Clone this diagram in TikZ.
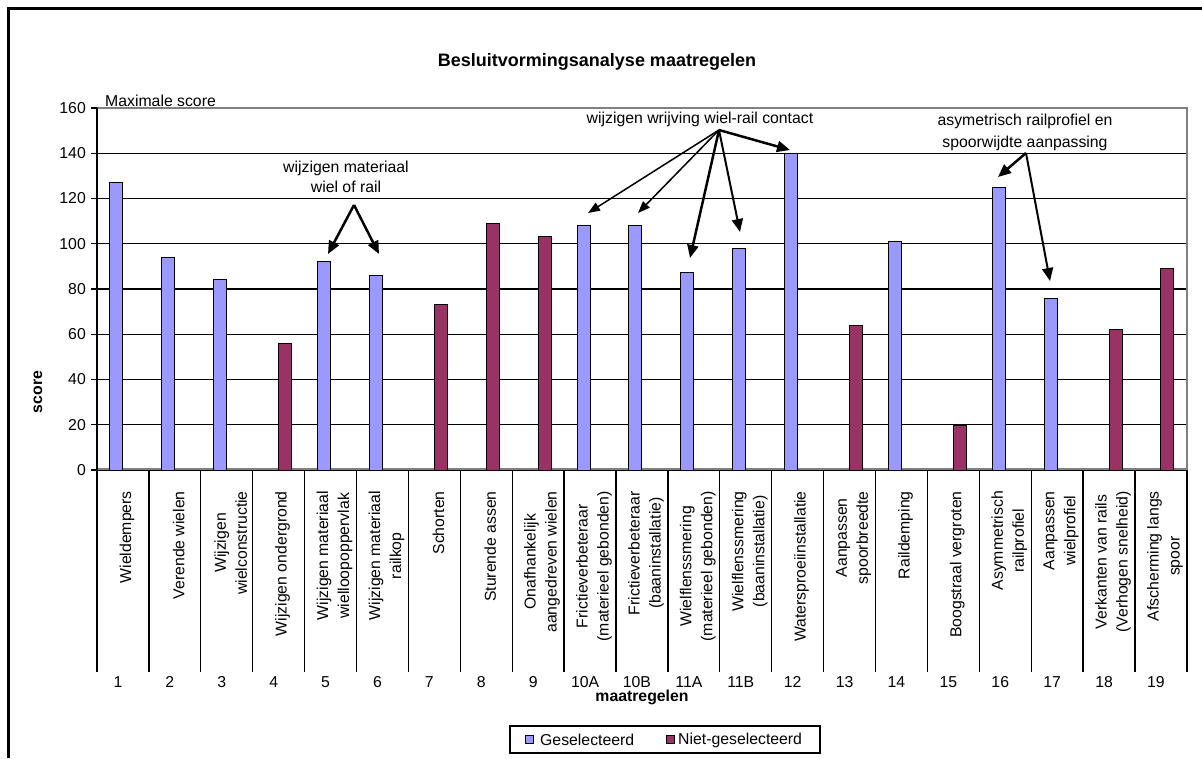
\documentclass[tikz,border=0pt]{standalone}
\usepackage{fontspec}
\setmainfont{Liberation Sans}
\usetikzlibrary{arrows.meta}
\definecolor{gesel}{HTML}{9999FF}
\definecolor{nietgesel}{HTML}{993366}
\tikzset{
  bar/.style={draw=black, line width=1pt},
  grid/.style={line width=1.3pt},
  txt/.style={inner sep=0pt, font=\fontsize{15.8}{20}\selectfont},
  cat/.style={txt, rotate=90, anchor=east, align=center, font=\fontsize{15.8}{21}\selectfont},
  ann/.style={-{Triangle[length=13pt,width=11pt]}, line width=2.5pt},
  annthin/.style={-{Triangle[length=12pt,width=9pt]}, line width=1.5pt}
}
\begin{document}
\begin{tikzpicture}[x=1pt,y=-1pt]
        \useasboundingbox (0,0) rectangle (1202,758);
        \draw[line width=3pt] (8,758) -- (8,8) -- (1202,8);
        \node[txt, font=\fontsize{18}{22}\selectfont\bfseries] (title) at (597,62) {Besluitvormingsanalyse maatregelen};

        % raster en assen
        \foreach \g in {0,20,...,140}{
          \draw[grid] (91,{470-2.2625*\g}) -- (1187,{470-2.2625*\g});
          \node[txt, anchor=east] (y\g) at (86,{470-2.2625*\g}) {\g};
        }
        \draw[grid, gray] (97,108) -- (1187,108) -- (1187,470);
        \draw[grid] (91,108) -- (97,108);
        \node[txt, anchor=east] (y160) at (86,108) {160};
        \draw[line width=2pt, gray] (97,469) -- (1187,469);
        \foreach \k in {0,...,21}
          \draw[grid] ({97+51.9*\k},470) -- ({97+51.9*\k},672);
        \draw[grid] (97,108) -- (97,470);
        \node[txt, font=\fontsize{15.8}{20}\selectfont\bfseries, rotate=90] (ylab) at (38,392) {score};
        \node[txt, font=\fontsize{15.8}{20}\selectfont\bfseries] (xlab) at (642,697) {maatregelen};
        \node[txt, anchor=base west] (max) at (105,106) {Maximale score};

        % staven
        \foreach \k/\n/\v/\s/\o/\t in {
            1/1/127/gesel/-13/{Wieldempers},
            2/2/94/gesel/-13/{Verende wielen},
            3/3/84/gesel/-13/{Wijzigen\\wielconstructie},
            4/4/56/nietgesel/0/{Wijzigen ondergrond},
            5/5/92/gesel/-13/{Wijzigen materiaal\\wielloopoppervlak},
            6/6/86/gesel/-13/{Wijzigen materiaal\\railkop},
            7/7/73/nietgesel/0/{Schorten},
            8/8/109/nietgesel/0/{Sturende assen},
            9/9/103/nietgesel/0/{Onafhankelijk\\aangedreven wielen},
            10/10A/108/gesel/-13/{Frictieverbeteraar\\(materieel gebonden)},
            11/10B/108/gesel/-13/{Frictieverbeteraar\\(baaninstallatie)},
            12/11A/87.5/gesel/-13/{Wielflenssmering\\(materieel gebonden)},
            13/11B/98/gesel/-13/{Wielflenssmering\\(baaninstallatie)},
            14/12/140/gesel/-13/{Watersproeiinstallatie},
            15/13/64/nietgesel/0/{Aanpassen\\spoorbreedte},
            16/14/101/gesel/-13/{Raildemping},
            17/15/19.5/nietgesel/0/{Boogstraal vergroten},
            18/16/125/gesel/-13/{Asymmetrisch\\railprofiel},
            19/17/76/gesel/-13/{Aanpassen\\wielprofiel},
            20/18/62/nietgesel/0/{Verkanten van rails\\(Verhogen snelheid)},
            21/19/89/nietgesel/0/{Afscherming langs\\spoor}}{
          \pgfmathsetmacro{\c}{97+51.9*(\k-0.5)}
          \draw[bar, fill=\s] ({\c+\o},470) rectangle ({\c+\o+13},{470-2.2625*\v});
          \node[cat] (cat\k) at ({\c+4},491) {\t};
          \node[txt] (nr\k) at ({\c-5},682) {\n};
        }

        % toelichtingen
        \node[txt, align=center] (matTxt) at (346,177) {wijzigen materiaal\\wiel of rail};
        \coordinate (matTop) at (354,205);
        \coordinate (mat5) at (328,254);
        \coordinate (mat6) at (379,254);
        \draw[ann] (matTop) -- (mat5);
        \draw[ann] (matTop) -- (mat6);

        \node[txt] (wriTxt) at (700,119) {wijzigen wrijving wiel-rail contact};
        \coordinate (wriTop) at (719,130);
        \coordinate (wriA) at (588,213);
        \coordinate (wriB) at (638,213);
        \coordinate (wriC) at (690,258);
        \coordinate (wriD) at (740,232);
        \coordinate (wriE) at (790,150);
        \draw[annthin] (wriTop) -- (wriA);
        \draw[annthin] (wriTop) -- (wriB);
        \draw[ann] (wriTop) -- (wriC);
        \draw[ann, line width=2pt] (wriTop) -- (wriD);
        \draw[ann] (wriTop) -- (wriE);

        \node[txt, align=center, font=\fontsize{15.8}{22}\selectfont] (asyTxt) at (1025,132) {asymetrisch railprofiel en\\spoorwijdte aanpassing};
        \coordinate (asyTop) at (1026,153);
        \coordinate (asy16) at (998,177);
        \coordinate (asy17) at (1050,281);
        \draw[ann] (asyTop) -- (asy16);
        \draw[ann, line width=2pt] (asyTop) -- (asy17);

        % legenda
        \draw[line width=1.5pt, fill=white] (510,726) rectangle (820,753);
        \draw[bar, fill=gesel] (525,735) rectangle (533,743);
        \node[txt, anchor=west] (legG) at (540,740) {Geselecteerd};
        \draw[bar, fill=nietgesel] (666,735) rectangle (674,743);
        \node[txt, anchor=west] (legN) at (678,740) {Niet-geselecteerd};
\end{tikzpicture}
\end{document}
